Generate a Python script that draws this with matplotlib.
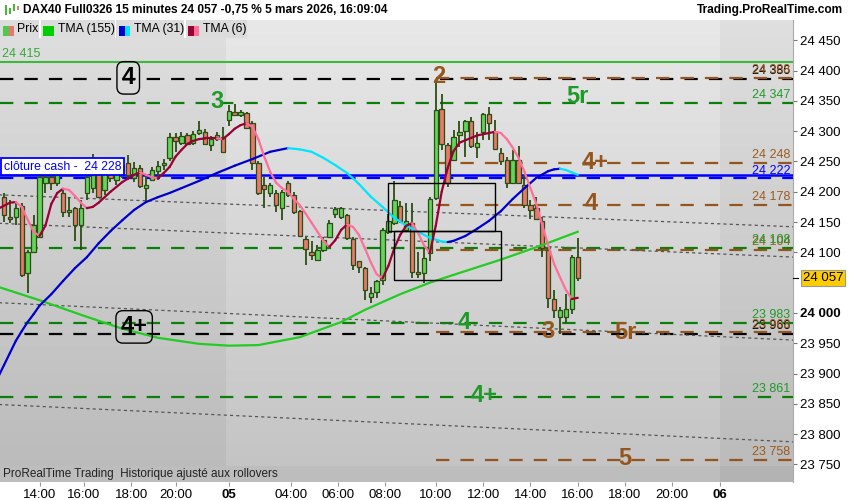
import matplotlib
matplotlib.use("Agg")
import matplotlib.pyplot as plt
import matplotlib.transforms as mtransforms
from matplotlib.patches import Rectangle
from matplotlib.collections import LineCollection
import numpy as np

plt.rcParams['font.family'] = ['Liberation Sans', 'DejaVu Sans']

# 15 minute bars, bar 0 = 4 mars 12:45 ... last bar = 5 mars 16:00
opens = [24192, 24159, 24159, 24177, 24066, 24101, 24126, 24214, 24225, 24215,
         24198, 24167, 24173, 24145, 24198, 24206, 24239, 24203, 24244, 24220,
         24233, 24248, 24223, 24239, 24207, 24220, 24235, 24244, 24255, 24291,
         24281, 24293, 24280, 24297, 24298, 24278, 24287, 24291, 24319, 24331,
         24326, 24330, 24313, 24247, 24212, 24198, 24198, 24173, 24214, 24195,
         24168, 24122, 24101, 24088, 24104, 24125, 24163, 24158, 24162, 24122,
         24085, 24074, 24027, 24034, 24054, 24134, 24148, 24177, 24137, 24148,
         24068, 24066, 24099, 24189, 24336, 24278, 24252, 24294, 24301, 24316,
         24274, 24299, 24328, 24299, 24264, 24253, 24215, 24253, 24211, 24178,
         24173, 24151, 24104, 24023, 23993, 23993, 24006, 24092]
highs = [24198, 24187, 24182, 24182, 24104, 24162, 24236, 24231, 24244, 24244,
         24206, 24192, 24175, 24187, 24233, 24262, 24247, 24244, 24256, 24253,
         24256, 24261, 24249, 24244, 24228, 24241, 24250, 24254, 24297, 24297,
         24299, 24297, 24301, 24317, 24303, 24292, 24299, 24307, 24343, 24345,
         24335, 24332, 24316, 24250, 24224, 24214, 24203, 24203, 24217, 24200,
         24170, 24126, 24118, 24112, 24126, 24153, 24175, 24175, 24164, 24126,
         24086, 24076, 24043, 24054, 24140, 24164, 24217, 24184, 24181, 24181,
         24101, 24107, 24192, 24386, 24362, 24280, 24302, 24316, 24319, 24324,
         24299, 24330, 24340, 24319, 24272, 24258, 24269, 24276, 24228, 24187,
         24192, 24159, 24109, 24038, 24010, 24032, 24096, 24123]
lows = [24150, 24149, 24145, 24060, 24033, 24099, 24124, 24198, 24203, 24210,
        24159, 24159, 24118, 24104, 24187, 24198, 24189, 24195, 24216, 24211,
        24223, 24220, 24216, 24206, 24184, 24218, 24220, 24236, 24250, 24266,
        24277, 24277, 24277, 24294, 24277, 24268, 24284, 24266, 24309, 24325,
        24323, 24305, 24236, 24195, 24173, 24192, 24167, 24153, 24192, 24164,
        24126, 24079, 24087, 24086, 24101, 24123, 24156, 24155, 24120, 24071,
        24066, 24021, 24016, 24024, 24046, 24131, 24145, 24148, 24134, 24057,
        24057, 24049, 24085, 24187, 24269, 24208, 24250, 24274, 24258, 24272,
        24255, 24285, 24286, 24269, 24244, 24206, 24213, 24213, 24173, 24155,
        24153, 24093, 24008, 23991, 23966, 23983, 23999, 24052]
closes = [24161, 24155, 24173, 24063, 24100, 24145, 24225, 24225, 24214, 24228,
          24167, 24170, 24145, 24173, 24225, 24228, 24192, 24236, 24223, 24239,
          24244, 24228, 24239, 24210, 24212, 24236, 24243, 24248, 24291, 24283,
          24292, 24279, 24295, 24302, 24279, 24287, 24294, 24266, 24334, 24327,
          24331, 24306, 24247, 24198, 24204, 24212, 24178, 24200, 24195, 24167,
          24127, 24105, 24096, 24104, 24120, 24148, 24172, 24173, 24123, 24079,
          24076, 24038, 24033, 24052, 24137, 24151, 24187, 24151, 24152, 24068,
          24064, 24090, 24188, 24335, 24279, 24215, 24291, 24299, 24317, 24276,
          24280, 24328, 24313, 24270, 24250, 24214, 24253, 24214, 24178, 24170,
          24155, 24107, 24024, 24005, 24005, 24006, 24092, 24057]

tick_pos = [6, 13.5, 21.5, 29, 38, 48.5, 56.5, 64.5, 73, 81, 89, 97, 105, 113, 121]
tick_labels = ['14:00', '16:00', '18:00', '20:00', '05', '04:00', '06:00', '08:00',
               '10:00', '12:00', '14:00', '16:00', '18:00', '20:00', '06']

# moving averages (bar index, value)
tma155_x = [-1, 0, 6, 13, 20, 26, 33, 38, 43, 50, 57, 61, 67, 72, 77, 84, 91, 97]
tma155_y = [24043, 24040, 24021, 23997, 23974, 23959, 23949, 23946, 23947, 23960,
            23985, 24005, 24031, 24050, 24066, 24088, 24112, 24134]

tma31_x = [-1, 0, 1, 2, 3, 4, 5, 6, 8, 10, 12, 14, 16, 18, 20, 22, 24, 26, 28, 30,
           33, 36, 39, 42, 45, 48, 50, 52, 54, 56, 58, 60, 62, 64, 66, 68, 70, 72, 74,
           75, 76, 78, 80, 82, 84, 86, 88, 90, 92, 93, 94, 95, 96, 97]
tma31_y = [23894, 23914, 23934, 23954, 23970, 23985, 23998, 24012, 24031, 24053,
           24074, 24092, 24115, 24135, 24153, 24170, 24183, 24191, 24198, 24206,
           24218, 24231, 24243, 24254, 24266, 24272, 24270, 24266, 24256, 24244,
           24231, 24213, 24192, 24175, 24157, 24144, 24134, 24124, 24118,
           24117, 24119, 24127, 24139, 24152, 24168, 24188, 24206, 24223, 24234,
           24237, 24238, 24236, 24232, 24228]

tma6_x = [-1] + list(range(1, 17)) + [18, 20, 22] + list(range(23, 81)) + list(range(82, 98))
tma6_y = [24172, 24182, 24183, 24175, 24154, 24134, 24127, 24144, 24180, 24198,
          24205, 24203, 24193, 24182, 24173, 24175, 24182, 24200, 24216, 24228,
          24232, 24228, 24224, 24222, 24231, 24241, 24258, 24269, 24279, 24284,
          24287, 24288, 24288, 24288, 24287, 24295, 24304, 24310, 24313, 24307,
          24287, 24258, 24233, 24215, 24206, 24200, 24188, 24178, 24164, 24149,
          24134, 24119, 24109, 24120, 24137, 24146, 24142, 24129, 24107, 24084,
          24064, 24057, 24078, 24107, 24129, 24144, 24148, 24132, 24112, 24099,
          24144, 24200, 24239, 24267, 24281, 24285, 24289, 24293, 24297, 24299,
          24297, 24287, 24273, 24256, 24233, 24206, 24180, 24145, 24112, 24081,
          24059, 24038, 24023, 24025]

# horizontal levels
black_levels = [24386, 23966]
green_levels = [24347, 24108, 23983, 23861]
brown_levels = [24388, 24248, 24178, 24104, 23968, 23758]
brown_start = 73
cash_close = 24228
blue_level = 24222
top_level = 24415
last_price = 24057

# dotted trend lines, value at each end
trend_x = [-1, 134]
trend_lines = [(24195, 24142), (24148, 24092), (24017, 23955), (23849, 23787)]

# rectangles: x from, x to, low, high
boxes = [(65, 83, 24135, 24215), (66, 84, 24055, 24135)]

BROWN = '#94561c'
GREEN = '#0a800a'
GTXT = '#1f9a28'
notes = [("4", 21, 24388, 'black', True),
         ("3", 36, 24349, GTXT, False),
         ("2", 73.5, 24391, BROWN, False),
         ("5r", 97, 24357, GTXT, False),
         ("4+", 100, 24249, BROWN, False),
         ("4", 99.2, 24180, BROWN, False),
         ("4", 77.8, 23985, GTXT, False),
         ("3", 92, 23970, BROWN, False),
         ("5r", 105, 23968, BROWN, False),
         ("4+", 22, 23977, 'black', True),
         ("4+", 81.2, 23864, GTXT, False),
         ("5", 105, 23760, BROWN, False)]

W, H = 850, 500
fig = plt.figure(figsize=(8.5, 5), dpi=100)
ax = fig.add_axes([0, 18 / H, 793 / W, 462 / H])
x0, x1 = -0.68, 133.4
y0, y1 = 23721, 24483.5

# background: vertical gradient, previous day and next day a bit darker
xs = np.linspace(x0, x1, 800)
vert = np.linspace(0.91, 0.765, 300)[:, None]
shade = np.where((xs < 37.5) | (xs > 121), 0.035, 0.0)[None, :]
g = vert - shade
ax.imshow(np.dstack([g, g, g]), extent=(x0, x1, y0, y1), aspect='auto',
          zorder=0, interpolation='nearest')

dash = (0, (6, 5))
for v in black_levels:
    ax.plot([x0, x1], [v, v], color='black', lw=1.6, ls=dash, zorder=2)
for v in green_levels:
    ax.plot([x0, x1], [v, v], color=GREEN, lw=1.6, ls=dash, zorder=2)
for v in brown_levels:
    ax.plot([brown_start, x1], [v, v], color=BROWN, lw=1.6, ls=dash, zorder=2)
ax.plot([x0, x1], [blue_level, blue_level], color='#0000ff', lw=1.6, ls=dash, zorder=2)
ax.plot([x0, x1], [cash_close, cash_close], color='#0000ff', lw=1.8, zorder=3)
ax.plot([x0, x1], [top_level, top_level], color='#3cb83c', lw=1.5, zorder=2)

for a, b in trend_lines:
    ax.plot(trend_x, [a, b], color='#555555', lw=0.9, ls=(0, (2.5, 2.5)), zorder=2)

def fmt(v):
    return f"{v:,}".replace(",", " ")

lab_x = 132.9
for v in black_levels:
    ax.text(lab_x, v + 3, fmt(v), color='black', fontsize=9, ha='right', va='bottom', zorder=3)
for v in brown_levels:
    ax.text(lab_x, v + 3, fmt(v), color='#9a5b1e', fontsize=9, ha='right', va='bottom', zorder=3)
for v in green_levels:
    ax.text(lab_x, v + 3, fmt(v), color=GTXT, fontsize=9, ha='right', va='bottom', zorder=3)
ax.text(lab_x, blue_level + 3, fmt(blue_level), color='#0000ff', fontsize=9,
        ha='right', va='bottom', zorder=3)
ax.text(-0.4, top_level + 3, fmt(top_level), color='#33aa33', fontsize=9,
        ha='left', va='bottom', zorder=3)

# candles
idx = np.arange(len(opens))
o, hi, lo, c = (np.array(a, dtype=float) for a in (opens, highs, lows, closes))
up = c >= o
WICK = '#2b4d12'
ax.vlines(idx, lo, hi, color=WICK, lw=1.3, zorder=4)
body_b = np.minimum(o, c)
body_h = np.maximum(np.abs(c - o), 1.5)
ax.bar(idx, body_h, 0.74, bottom=body_b,
       color=['#62d65a' if u else '#e9776b' for u in up],
       edgecolor=WICK, linewidth=0.9, zorder=5)

def two_tone(x, y, up_col, down_col, lw):
    pts = np.column_stack([x, y])
    segs = np.stack([pts[:-1], pts[1:]], axis=1)
    cols = [up_col if b >= a else down_col for a, b in zip(y[:-1], y[1:])]
    ax.add_collection(LineCollection(segs, colors=cols, linewidths=lw,
                                     capstyle='round', zorder=6))

ax.plot(tma155_x, tma155_y, color='#22cc22', lw=1.6, zorder=6)
two_tone(tma31_x, tma31_y, '#0000cc', '#00e5ff', 1.6)
two_tone(tma6_x, tma6_y, '#990033', '#ff6f9a', 1.6)

for xa, xb, ya, yb in boxes:
    ax.add_patch(Rectangle((xa, ya), xb - xa, yb - ya, fill=False,
                           ec='black', lw=1.0, zorder=7))

for txt, k, v, col, boxed in notes:
    kw = {}
    if boxed:
        kw['bbox'] = dict(boxstyle='round,pad=0.2,rounding_size=0.3',
                          fc='none', ec='black', lw=1.0)
    ax.text(k, v, txt, color=col, fontsize=17, fontweight='bold',
            ha='center', va='center', zorder=8, **kw)

ax.set_xlim(x0, x1)
ax.set_ylim(y0, y1)

# right price axis
yt = [v for v in range(23750, 24451, 50) if v != 24050]
ax.yaxis.tick_right()
ax.set_yticks(yt, [fmt(v) for v in yt])
ax.tick_params(axis='y', length=3, width=0.8, color='#777777', pad=2, labelsize=9.5)
for t in ax.get_yticklabels():
    if t.get_text() == '24 000':
        t.set_fontweight('bold')

ax.set_xticks(tick_pos, tick_labels)
ax.tick_params(axis='x', length=3, width=0.8, color='#999999', pad=2, labelsize=9.5)
for t in ax.get_xticklabels():
    if t.get_text() in ('05', '06'):
        t.set_fontweight('bold')

for s in ('top', 'left', 'bottom'):
    ax.spines[s].set_visible(False)
ax.spines['right'].set_color('#aaaaaa')

trans = mtransforms.blended_transform_factory(ax.transAxes, ax.transData)
ax.plot([1.0, 1.006], [last_price, last_price], color='black', lw=0.8,
        transform=trans, clip_on=False, zorder=9)
ax.text(1.012, last_price, fmt(last_price), transform=trans, fontsize=9.5,
        ha='left', va='center', zorder=9,
        bbox=dict(boxstyle='square,pad=0.15', fc='#ffcc00', ec='#999999', lw=0.8))

# bottom strip
sh = 16 / 462
ax.add_patch(Rectangle((0, 0), 1, sh, transform=ax.transAxes, fc='#bdbdbd',
                       ec='none', zorder=9))
ax.add_patch(Rectangle((720 / 793, 0), 73 / 793, sh, transform=ax.transAxes,
                       fc='#b3b3b3', ec='none', zorder=9))
ax.text(3 / 793, sh / 2, "ProRealTime Trading  Historique ajusté aux rollovers",
        transform=ax.transAxes, fontsize=8.5, va='center', ha='left',
        color='#222222', zorder=10)

# header and legend row (figure pixels)
def fx(px):
    return px / W

def fy(py):
    return 1 - py / H

fig.text(fx(23), fy(10), "DAX40 Full0326 15 minutes 24 057 -0,75 % 5 mars 2026, 16:09:04",
         fontsize=8.6, fontweight='bold', va='center', ha='left')
fig.text(fx(843), fy(10), "Trading.ProRealTime.com", fontsize=8.6,
         fontweight='bold', va='center', ha='right')
for bx, by0, by1, col in [(5, 5, 15, '#44bb33'), (9, 8, 14, '#44bb33'),
                          (13, 4, 11, '#44bb33'), (17, 6, 10, '#e9776b')]:
    fig.add_artist(Rectangle((fx(bx), fy(by1)), 2.4 / W, (by1 - by0) / H,
                             transform=fig.transFigure, fc=col, ec='none'))

fig.add_artist(Rectangle((0, fy(38)), fx(247), 18 / H, transform=fig.transFigure,
                         fc='#dcdcdc', ec='none', zorder=3))
for sx in (39, 115, 184):
    fig.add_artist(Rectangle((fx(sx), fy(38)), 1.5 / W, 18 / H,
                             transform=fig.transFigure, fc='white', ec='none', zorder=4))
legend = [(3, ['#4fc94f', '#e9776b'], "Prix", 17),
          (43, ['#00cc00'], "TMA (155)", 58),
          (119, ['#0000cc', '#00e5ff'], "TMA (31)", 134),
          (188, ['#990033', '#ff6f9a'], "TMA (6)", 203)]
for lx, cols, name, tx in legend:
    wsq = 11 / len(cols)
    for i, col in enumerate(cols):
        fig.add_artist(Rectangle((fx(lx + i * wsq), fy(36)), wsq / W, 10 / H,
                                 transform=fig.transFigure, fc=col, ec='none', zorder=5))
    fig.text(fx(tx), fy(29), name, fontsize=8.8, va='center', ha='left', zorder=5)

# "clôture cash" label
fig.text(fx(4), fy(166.5), "clôture cash -  24 228", fontsize=8.8, color='#0000ff',
         va='center', ha='left', zorder=6,
         bbox=dict(boxstyle='square,pad=0.22', fc='white', ec='#0000ff', lw=1.3))

fig.savefig('out.png', dpi=100)
